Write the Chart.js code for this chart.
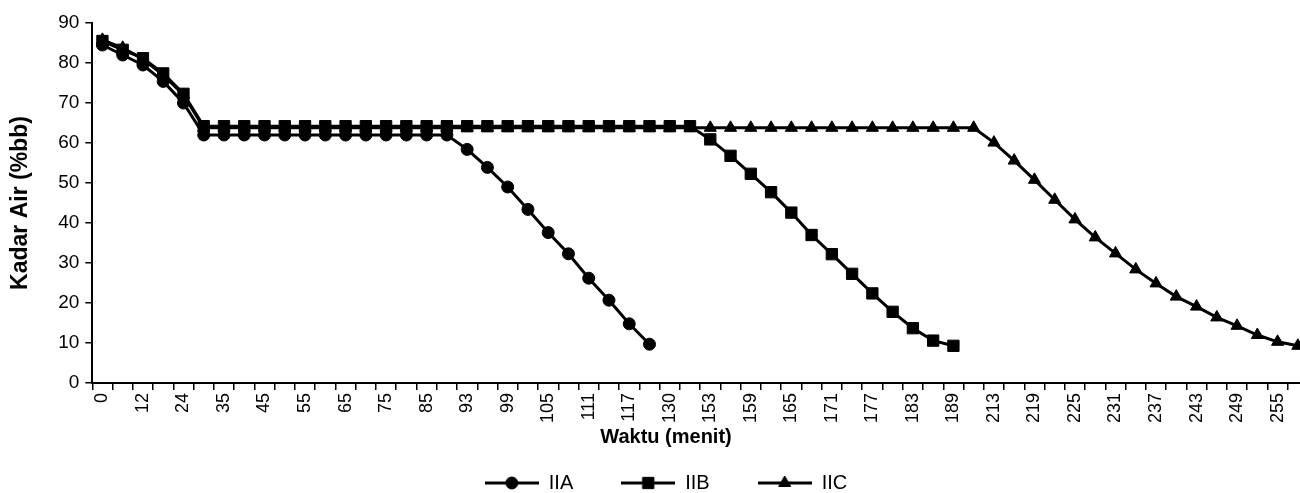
<!DOCTYPE html>
<html>
<head>
<meta charset="utf-8">
<script src="https://cdn.jsdelivr.net/npm/chart.js@4/dist/chart.umd.min.js"></script>
<style>
html,body{margin:0;padding:0;overflow:hidden;background:#fff;width:1300px;height:493px;}
#wrap{position:absolute;left:0;top:0;width:1332px;height:493px;}
</style>
</head>
<body>
<div id="wrap"><canvas id="c" width="1332" height="493" style="width:1332px;height:493px"></canvas></div>
<script>
// ---- data ----
const categories = [
  '0','6','12','18','24','30','35','40','45','50',
  '55','60','65','70','75','80','85','90','93','96',
  '99','102','105','108','111','114','117','120','130','150',
  '153','156','159','162','165','168','171','174','177','180',
  '183','186','189','210','213','216','219','222','225','228',
  '231','234','237','240','243','246','249','252','255','258'
];
const seriesIIA = [
  84.5, 82.0, 79.5, 75.4, 70.0,
  62.0, 62.0, 62.0, 62.0, 62.0, 62.0, 62.0, 62.0, 62.0, 62.0, 62.0, 62.0, 62.0,
  58.4, 53.9, 49.0, 43.4, 37.6, 32.3, 26.2, 20.7, 14.8, 9.7
];
const seriesIIB = [
  85.5, 83.3, 81.2, 77.4, 72.3,
  64.2, 64.2, 64.2, 64.2, 64.2, 64.2, 64.2, 64.2, 64.2, 64.2,
  64.2, 64.2, 64.2, 64.2, 64.2, 64.2, 64.2, 64.2, 64.2, 64.2,
  64.2, 64.2, 64.2, 64.2, 64.2,
  60.9, 56.8, 52.3, 47.7, 42.6, 37.0, 32.2, 27.3, 22.4, 17.8, 13.7, 10.6, 9.3
];
const seriesIIC = [
  85.8, 83.8, 81.0, 77.0, 72.0,
  63.8, 63.8, 63.8, 63.8, 63.8, 63.8, 63.8, 63.8, 63.8, 63.8,
  63.8, 63.8, 63.8, 63.8, 63.8, 63.8, 63.8, 63.8, 63.8, 63.8,
  63.8, 63.8, 63.8, 63.8, 63.8, 63.8, 63.8, 63.8, 63.8, 63.8,
  63.8, 63.8, 63.8, 63.8, 63.8, 63.8, 63.8, 63.8, 63.8,
  60.1, 55.6, 50.8, 45.8, 40.9, 36.4, 32.4, 28.4, 24.9, 21.6, 19.1, 16.4, 14.3, 12.0, 10.3, 9.3
];
const seriesNames = ['IIA', 'IIB', 'IIC'];
const yTicksMin = 0, yTicksMax = 90, yTickStep = 10;
const xTitle = 'Waktu (menit)';
const yTitle = 'Kadar Air (%bb)';

// ---- styles ----
Chart.defaults.font.family = '"Liberation Sans", Arial, sans-serif';
Chart.defaults.color = '#000';

const pointStyles = ['circle', 'rect', 'triangle'];
const pointRadii = [6, 8, 7];

function legendImage(style, r) {
  const c = document.createElement('canvas');
  c.width = 54; c.height = 20;
  const g = c.getContext('2d');
  g.strokeStyle = '#000'; g.fillStyle = '#000'; g.lineWidth = 3;
  g.beginPath(); g.moveTo(0, 10); g.lineTo(54, 10); g.stroke();
  const x = 27, y = 10;
  g.beginPath();
  if (style === 'circle') {
    g.arc(x, y, r, 0, Math.PI * 2);
  } else if (style === 'rect') {
    const s = r * Math.SQRT1_2;
    g.rect(x - s, y - s, 2 * s, 2 * s);
  } else {
    let a = 0;
    g.moveTo(x + Math.sin(a) * r, y - Math.cos(a) * r);
    a += 2 * Math.PI / 3; g.lineTo(x + Math.sin(a) * r, y - Math.cos(a) * r);
    a += 2 * Math.PI / 3; g.lineTo(x + Math.sin(a) * r, y - Math.cos(a) * r);
    g.closePath();
  }
  g.fill();
  g.lineWidth = 1; g.stroke();
  return c;
}
const legendImgs = pointStyles.map((s, i) => legendImage(s, pointRadii[i]));

function ds(label, data, i) {
  return {
    label: label,
    data: data,
    borderColor: '#000',
    backgroundColor: '#000',
    borderWidth: 3,
    tension: 0,
    fill: false,
    pointStyle: pointStyles[i],
    pointRadius: pointRadii[i],
    pointBackgroundColor: '#000',
    pointBorderColor: '#000',
    pointBorderWidth: 1,
    spanGaps: false
  };
}

new Chart(document.getElementById('c'), {
  type: 'line',
  data: {
    labels: categories,
    datasets: [
      ds(seriesNames[0], seriesIIA, 0),
      ds(seriesNames[1], seriesIIB, 1),
      ds(seriesNames[2], seriesIIC, 2)
    ]
  },
  options: {
    responsive: false,
    animation: false,
    events: [],
    layout: { padding: { top: 23, left: 0, right: 0, bottom: 0 } },
    scales: {
      x: {
        type: 'category',
        position: 'bottom',
        weight: 0,
        offset: true,
        grid: { display: true, offset: true, drawOnChartArea: false, drawTicks: true, tickLength: 7, color: '#000', lineWidth: 1.5 },
        border: { display: true, color: '#000', width: 2 },
        ticks: {
          autoSkip: false, maxRotation: 90, minRotation: 90, padding: 3, color: '#000',
          font: { size: 18 },
          callback: (v, i) => (i % 2 === 0 ? categories[i] : '')
        },
        afterFit: s => { s.height = 42; }
      },
      xTitleAxis: {
        type: 'linear',
        position: 'bottom',
        fullSize: true,
        weight: 1,
        display: true,
        grid: { display: false, drawTicks: false },
        border: { display: false },
        ticks: { display: false },
        title: { display: true, text: xTitle, color: '#000', font: { size: 20, weight: 'bold' }, padding: { top: 0, bottom: -24 } },
        afterFit: s => { s.height = 0; }
      },
      y: {
        type: 'linear',
        position: 'left',
        min: yTicksMin,
        max: yTicksMax,
        ticks: { stepSize: yTickStep, padding: 6, color: '#000', font: { size: 19 } },
        grid: { drawOnChartArea: false, drawTicks: true, tickLength: 7, color: '#000', lineWidth: 1.5 },
        border: { display: true, color: '#000', width: 2 },
        title: { display: true, text: yTitle, color: '#000', font: { size: 23, weight: 'bold' }, padding: { top: 7, bottom: 0 } },
        afterFit: s => { s.width = 92.3; }
      },
      yRight: {
        type: 'linear',
        position: 'right',
        display: true,
        grid: { display: false, drawTicks: false },
        border: { display: false },
        ticks: { display: false },
        afterFit: s => { s.width = 24; }
      }
    },
    plugins: {
      legend: {
        position: 'bottom',
        maxHeight: 68,
        labels: {
          usePointStyle: true,
          pointStyleWidth: 54,
          padding: 48,
          color: '#000',
          font: { size: 20 },
          generateLabels: chart => {
            const items = Chart.defaults.plugins.legend.labels.generateLabels(chart);
            items.forEach((it, i) => { it.pointStyle = legendImgs[i]; it.rotation = 0; });
            return items;
          }
        }
      },
      tooltip: { enabled: false }
    }
  }
});
</script>
</body>
</html>
